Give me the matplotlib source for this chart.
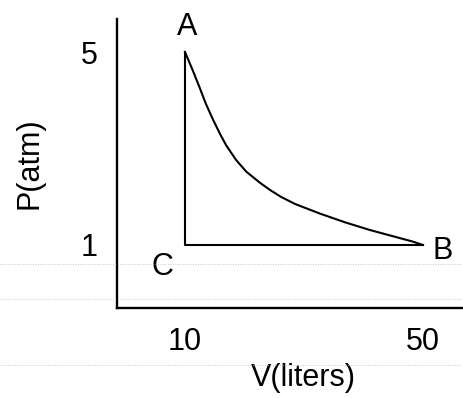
import matplotlib
matplotlib.use('Agg')
import matplotlib.pyplot as plt
from matplotlib.lines import Line2D

plt.rcParams['font.family'] = ['Liberation Sans', 'DejaVu Sans']

# corner states of the cycle
state_names = ['A', 'B', 'C']
state_v = [10, 50, 10]
state_p = [5, 1, 1]

# curve A -> B
curve_v = [10, 11.3, 12.5, 13.5, 14.7, 15.9, 16.9, 18.6, 20.3, 22.6, 24.3, 26.1,
           28.5, 32.7, 36.9, 41.1, 45.3, 48.3, 50]
curve_p = [5.0, 4.62, 4.25, 3.93, 3.60, 3.30, 3.07, 2.76, 2.52, 2.29, 2.14, 2.0,
           1.85, 1.65, 1.47, 1.31, 1.17, 1.07, 1.0]

x_ticks = [10, 50]
y_ticks = [1, 5]

W, H = 464, 398
fig = plt.figure(figsize=(W / 100, H / 100), dpi=100)
ax = fig.add_axes([117 / W, 1 - 308 / H, 347 / W, 289 / H])

# curve A -> B, then B -> C and C -> A
ax.plot(curve_v, curve_p, color='black', lw=1.5, solid_joinstyle='round')
ax.plot([state_v[1], state_v[2], state_v[0]], [state_p[1], state_p[2], state_p[0]],
        color='black', lw=1.5)

ax.set_xlim(-1.43, 56.9)
ax.set_ylim(-0.306, 5.684)

for s in ['top', 'right']:
    ax.spines[s].set_visible(False)
for s in ['left', 'bottom']:
    ax.spines[s].set_linewidth(1.7)

ax.set_xticks(x_ticks)
ax.set_xticklabels([str(t) for t in x_ticks])
ax.set_yticks(y_ticks)
ax.set_yticklabels([str(t) for t in y_ticks])
ax.tick_params(axis='x', length=0, pad=14, labelsize=22)
ax.tick_params(axis='y', length=0, pad=14, labelsize=22)

ax.text(0.536, -0.242, 'V(liters)', transform=ax.transAxes,
        ha='center', va='center', fontsize=22)
ax.text(-0.251, 0.502, 'P(atm)', transform=ax.transAxes, rotation=90,
        ha='center', va='center', fontsize=22)

offsets = {'A': (1.5, 18), 'B': (14, -4), 'C': (-16.5, -16)}
for name, v, p in zip(state_names, state_v, state_p):
    ax.annotate(name, (v, p), xytext=offsets[name], textcoords='offset points',
                ha='center', va='center', fontsize=22)

# faint dotted scan lines
for yp in [264, 299, 365]:
    fig.add_artist(Line2D([0, 1], [1 - yp / H] * 2, transform=fig.transFigure,
                          color='0.7', lw=0.6, ls=(0, (1, 2))))

fig.savefig('out.png', dpi=100)
